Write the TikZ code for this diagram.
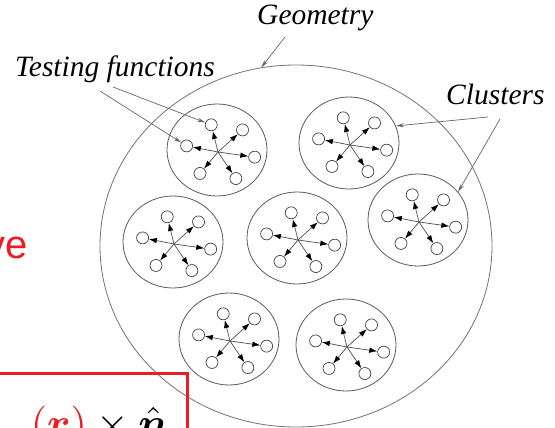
\documentclass[tikz,border=0pt]{standalone}
\usepackage{fontspec}
\usepackage{amsmath}
\setmainfont{Liberation Serif}
\newfontfamily\slidefont{Liberation Sans}
\usetikzlibrary{shapes.geometric,arrows.meta,calc}
\definecolor{slidered}{RGB}{237,28,36}
\begin{document}
\begin{tikzpicture}[x=1pt, y=-1pt,
  lbl/.style={font=\fontsize{29.5}{32}\selectfont\itshape, inner sep=0pt, anchor=base west},
  clus/.style={draw=black!65, thick, ellipse, minimum width=100pt, minimum height=92pt, inner sep=0pt},
  tfun/.style={draw=black!75, circle, minimum size=12pt, inner sep=0pt, line width=0.7pt},
  spoke/.style={-{Latex[length=8pt,width=5.5pt,black]}, draw=black!70, line width=0.7pt},
  pointer/.style={-{Stealth[length=8pt,width=4pt]}, draw=black!60, line width=0.7pt}]
  \clip (0,0) rectangle (555,428);
  % the whole geometry
  \node[draw=black!55, thick, ellipse, minimum width=392pt, minimum height=362pt, inner sep=0pt] (geom) at (296,246) {};
  % clusters of testing functions
  \foreach \c/\x/\y in {1/217/150, 2/349/143, 3/173/242, 4/297/238, 5/418/220, 6/229/339, 7/346/345} {
    \node[clus] (c\c) at (\x,\y) {};
    \coordinate (o\c) at (\x+1,\y+2);
    \foreach \k/\a/\r in {u/-104/28, ur/-42/33, r/8/37, lr/56/32, ll/130/28, l/-169/32} {
      \node[tfun] (t\c\k) at ($(o\c)+(\a:\r)$) {};
      \draw[spoke] (o\c) -- (t\c\k);
    }
  }
  % labels
  \node[lbl] (geo) at (257,25) {Geometry};
  \coordinate (geoa) at (285,37);
  \draw[pointer] (geoa) -- (geom.101);
  \node[lbl] (tf) at (15,77) {Testing functions};
  \coordinate (tfa) at (100,91);
  \coordinate (tfb) at (113,87);
  \draw[pointer] (tfa) -- (t1l);
  \draw[pointer] (tfb) -- (t1u);
  \node[lbl] (cl) at (446,105) {Clusters};
  \coordinate (cla) at (488,117);
  \coordinate (clb) at (500,119);
  \draw[pointer] (cla) -- (c2.20);
  \draw[pointer] (clb) -- (c5.35);
  % slide leftovers
  \node[font=\slidefont\fontsize{40}{44}\selectfont, text=slidered, anchor=base east, inner sep=0pt] (ve) at (28,258) {ve};
  \draw[slidered, line width=3pt] (-5,373) -| (187,440);
  \node[anchor=base west, inner sep=0pt, scale=4.2] (eq) at (30,437) {$\textcolor{slidered}{(\boldsymbol{r})}\times\hat{\boldsymbol{n}}$};
\end{tikzpicture}
\end{document}
